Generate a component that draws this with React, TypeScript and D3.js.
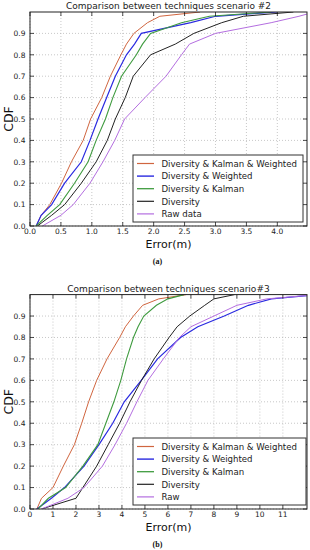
import React from "react";
import * as d3 from "d3";

// CDF levels shared by every series (quantile table)
const LEVELS = [0, 0.05, 0.1, 0.2, 0.3, 0.4, 0.5, 0.6, 0.7, 0.8, 0.85, 0.9, 0.95, 0.98, 1.0];

// Scenario #2 : error (m) reached at each CDF level
const s2DivKalWeighted = [0.10, 0.18, 0.32, 0.51, 0.67, 0.86, 0.98, 1.16, 1.30, 1.47, 1.56, 1.68, 1.90, 2.10, 2.75];
const s2DivWeighted = [0.10, 0.18, 0.35, 0.56, 0.83, 0.97, 1.10, 1.24, 1.38, 1.56, 1.69, 1.80, 2.60, 3.00, 4.00];
const s2DivKalman = [0.10, 0.28, 0.48, 0.72, 0.94, 1.07, 1.22, 1.34, 1.48, 1.72, 1.82, 1.95, 2.45, 2.90, 3.90];
const s2Diversity = [0.12, 0.35, 0.56, 0.83, 1.07, 1.25, 1.38, 1.54, 1.67, 1.95, 2.35, 2.65, 3.10, 3.45, 4.26];
const s2Raw = [0.20, 0.50, 0.70, 0.97, 1.18, 1.37, 1.53, 1.86, 2.20, 2.45, 2.58, 3.00, 3.90, 4.35, 4.60];

// Scenario #3
const s3DivKalWeighted = [0.30, 0.50, 1.00, 1.45, 1.93, 2.25, 2.55, 2.90, 3.35, 3.90, 4.15, 4.50, 4.90, 5.60, 6.80];
const s3DivWeighted = [0.30, 0.93, 1.50, 2.35, 3.00, 3.60, 4.10, 4.84, 5.55, 6.55, 7.30, 8.45, 9.50, 10.50, 12.50];
const s3DivKalman = [0.35, 0.80, 1.55, 2.30, 2.95, 3.30, 3.65, 3.95, 4.20, 4.50, 4.70, 4.95, 5.50, 6.00, 6.70];
const s3Diversity = [0.50, 2.00, 2.30, 2.90, 3.40, 3.90, 4.35, 4.85, 5.40, 6.05, 6.40, 6.95, 7.60, 8.00, 8.90];
const s3Raw = [0.50, 1.65, 2.35, 3.15, 3.70, 4.20, 4.65, 5.13, 5.80, 6.50, 7.00, 8.00, 9.00, 10.30, 12.50];

const labels2 = ["Diversity & Kalman & Weighted", "Diversity & Weighted", "Diversity & Kalman", "Diversity", "Raw data"];
const labels3 = ["Diversity & Kalman & Weighted", "Diversity & Weighted", "Diversity & Kalman", "Diversity", "Raw"];

const xTicks2 = [0, 0.5, 1, 1.5, 2, 2.5, 3, 3.5, 4];
const xTicks3 = [0, 1, 2, 3, 4, 5, 6, 7, 8, 9, 10, 11];
const yTicks = [0, 0.1, 0.2, 0.3, 0.4, 0.5, 0.6, 0.7, 0.8, 0.9];

const COLORS = ["#d0653f", "#2a2ae0", "#3f9b3f", "#222222", "#b46ee0"];
const WIDTHS = [1, 1.2, 1.1, 1, 1];

const FONT = "DejaVu Sans, sans-serif";

type ChartProps = {
  id: string;
  top: number;
  bottom: number;
  title: string;
  xMax: number;
  xTicks: number[];
  fmt: (v: number) => string;
  series: number[][];
  labels: string[];
  legendTop: number;
  legendRight: number;
  sub: string;
};

function Chart(p: ChartProps) {
  const left = 30;
  const right = 307;
  const x = d3.scaleLinear().domain([0, p.xMax]).range([left, right]);
  const y = d3.scaleLinear().domain([0, 1]).range([p.bottom, p.top]);
  const line = d3
    .line<[number, number]>()
    .x((d) => x(d[0]))
    .y((d) => y(d[1]));
  const legW = p.legendRight - 133;
  const rowH = 12.6;
  return (
    <g>
      <defs>
        <clipPath id={p.id}>
          <rect x={left} y={p.top} width={right - left} height={p.bottom - p.top} />
        </clipPath>
      </defs>
      <rect x={left} y={p.top} width={right - left} height={p.bottom - p.top} fill="#fff" />
      {p.xTicks.map((t) => (
        <line key={"gx" + t} x1={x(t)} x2={x(t)} y1={p.top} y2={p.bottom} stroke="#b0b0b0" strokeWidth={0.7} strokeDasharray="1,2" />
      ))}
      {yTicks.map((t) => (
        <line key={"gy" + t} x1={left} x2={right} y1={y(t)} y2={y(t)} stroke="#b0b0b0" strokeWidth={0.7} strokeDasharray="1,2" />
      ))}
      <g clipPath={`url(#${p.id})`}>
        {p.series.map((s, i) => (
          <path
            key={i}
            d={line(s.map((v, k) => [v, LEVELS[k]] as [number, number])) || ""}
            fill="none"
            stroke={COLORS[i]}
            strokeWidth={WIDTHS[i]}
          />
        ))}
      </g>
      {p.xTicks.map((t) => (
        <g key={"tx" + t}>
          <line x1={x(t)} x2={x(t)} y1={p.bottom} y2={p.bottom - 4} stroke="#000" strokeWidth={0.7} />
          <line x1={x(t)} x2={x(t)} y1={p.top} y2={p.top + 4} stroke="#000" strokeWidth={0.7} />
          <text x={x(t)} y={p.bottom + 8} fontSize={7.5} fontFamily={FONT} textAnchor="middle" fill="#222">
            {p.fmt(t)}
          </text>
        </g>
      ))}
      {yTicks.map((t) => (
        <g key={"ty" + t}>
          <line x1={left} x2={left + 4} y1={y(t)} y2={y(t)} stroke="#000" strokeWidth={0.7} />
          <line x1={right} x2={right - 4} y1={y(t)} y2={y(t)} stroke="#000" strokeWidth={0.7} />
          <text x={25.5} y={y(t) + 2.7} fontSize={7.5} fontFamily={FONT} textAnchor="end" fill="#222">
            {d3.format(".1f")(t)}
          </text>
        </g>
      ))}
      <rect x={left} y={p.top} width={right - left} height={p.bottom - p.top} fill="none" stroke="#222" strokeWidth={1} />
      <text x={(left + right) / 2} y={p.top - 3} fontSize={9} fontFamily={FONT} textAnchor="middle" fill="#222">
        {p.title}
      </text>
      <text
        transform={`translate(13,${(p.top + p.bottom) / 2}) rotate(-90)`}
        fontSize={12.5}
        fontFamily={FONT}
        textAnchor="middle"
        fill="#111"
      >
        CDF
      </text>
      <text x={(left + right) / 2} y={p.bottom + 22} fontSize={11} fontFamily={FONT} textAnchor="middle" fill="#111">
        Error(m)
      </text>
      <text x={157.5} y={p.bottom + 38} fontSize={8} fontFamily="Liberation Serif, serif" fontWeight="bold" textAnchor="middle" fill="#111">
        {p.sub}
      </text>
      <g>
        <rect x={133} y={p.legendTop} width={legW} height={67} fill="#fff" stroke="#333" strokeWidth={1} />
        {p.labels.map((lab, i) => {
          const yy = p.legendTop + 8.5 + i * rowH;
          return (
            <g key={lab}>
              <line x1={137} x2={154} y1={yy} y2={yy} stroke={COLORS[i]} strokeWidth={WIDTHS[i] + 0.2} />
              <text x={161.5} y={yy + 3.2} fontSize={8.6} fontFamily={FONT} fill="#222">
                {lab}
              </text>
            </g>
          );
        })}
      </g>
    </g>
  );
}

export default function App() {
  const fmt2 = d3.format(".1f");
  const fmt3 = (v: number) => String(v);
  return (
    <svg width={310} height={550} style={{ position: "absolute", left: 0, top: 0, background: "#fff" }}>
      <rect x={0} y={0} width={310} height={550} fill="#fff" />
      <Chart
        id="c2"
        top={12}
        bottom={226}
        title="Comparison between techniques scenario #2"
        xMax={4.48}
        xTicks={xTicks2}
        fmt={fmt2}
        series={[s2DivKalWeighted, s2DivWeighted, s2DivKalman, s2Diversity, s2Raw]}
        labels={labels2}
        legendTop={155}
        legendRight={303}
        sub="(a)"
      />
      <Chart
        id="c3"
        top={294.6}
        bottom={509}
        title="Comparison between techniques scenario#3"
        xMax={12.05}
        xTicks={xTicks3}
        fmt={fmt3}
        series={[s3DivKalWeighted, s3DivWeighted, s3DivKalman, s3Diversity, s3Raw]}
        labels={labels3}
        legendTop={438}
        legendRight={306}
        sub="(b)"
      />
    </svg>
  );
}
